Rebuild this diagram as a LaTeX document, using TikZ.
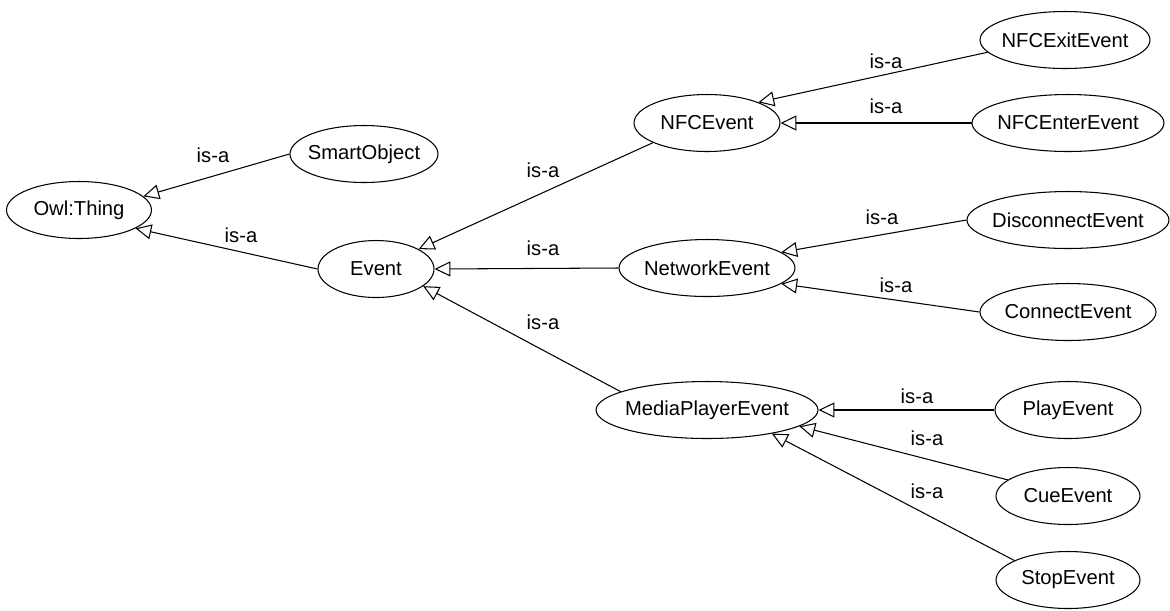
\documentclass[tikz,border=0pt]{standalone}
\usepackage{fontspec}
\setmainfont{Liberation Sans}
\usetikzlibrary{shapes.geometric,arrows.meta}
\tikzset{
  cls/.style={draw, ellipse, line width=0.6pt, inner xsep=-3pt, minimum height=1.14cm,
    font=\fontsize{11.5}{13}\selectfont},
  isa/.style={draw, line width=0.6pt, -{Triangle[open, length=9pt, width=8.5pt]}},
  lbl/.style={inner sep=1pt, font=\fontsize{11.5}{13}\selectfont}
}
\begin{document}
\begin{tikzpicture}[x=0.02cm, y=-0.02cm]
  \useasboundingbox (0,0) rectangle (1170,610);

  % classes
  \node[cls, minimum width=2.9cm]  (owl)        at (79,210)   {Owl:Thing};
  \node[cls, minimum width=2.96cm] (smart)      at (364,154)  {SmartObject};
  \node[cls, minimum width=2.32cm] (event)      at (376,269)  {Event};
  \node[cls, minimum width=2.92cm] (nfc)        at (707,123)  {NFCEvent};
  \node[cls, minimum width=3.52cm] (network)    at (707,268)  {NetworkEvent};
  \node[cls, minimum width=4.44cm] (media)      at (707,410)  {MediaPlayerEvent};
  \node[cls, minimum width=3.4cm]  (nfcexit)    at (1065,40)  {NFCExitEvent};
  \node[cls, minimum width=3.84cm] (nfcenter)   at (1068,123) {NFCEnterEvent};
  \node[cls, minimum width=4.04cm] (disconnect) at (1068,220) {DisconnectEvent};
  \node[cls, minimum width=3.52cm] (connect)    at (1068,312) {ConnectEvent};
  \node[cls, minimum width=2.92cm] (play)       at (1068,410) {PlayEvent};
  \node[cls, minimum width=2.88cm] (cue)        at (1068,496) {CueEvent};
  \node[cls, minimum width=2.88cm] (stop)       at (1068,580) {StopEvent};

  % is-a links
  \draw[isa] (smart.west)      -- (owl.12);
  \draw[isa] (event.west)      -- (owl.342);
  \draw[isa] (nfc.200)         -- (event.25);
  \draw[isa] (network.west)    -- (event.east);
  \draw[isa] (media.168)       -- (event.340);
  \draw[isa] (nfcexit.189)     -- (nfc.22);
  \draw[isa] (nfcenter.west)   -- (nfc.east);
  \draw[isa] (disconnect.west) -- (network.12);
  \draw[isa] (connect.west)    -- (network.348);
  \draw[isa] (play.west)       -- (media.east);
  \draw[isa] (cue.165)         -- (media.350);
  \draw[isa] (stop.160)        -- (media.340);

  % labels
  \node[lbl] (l1)  at (213,155) {is-a};
  \node[lbl] (l2)  at (241,235) {is-a};
  \node[lbl] (l3)  at (543,170) {is-a};
  \node[lbl] (l4)  at (543,248) {is-a};
  \node[lbl] (l5)  at (543,322) {is-a};
  \node[lbl] (l6)  at (886,61)  {is-a};
  \node[lbl] (l7)  at (886,106) {is-a};
  \node[lbl] (l8)  at (882,217) {is-a};
  \node[lbl] (l9)  at (896,285) {is-a};
  \node[lbl] (l10) at (917,396) {is-a};
  \node[lbl] (l11) at (927,438) {is-a};
  \node[lbl] (l12) at (927,491) {is-a};
\end{tikzpicture}
\end{document}
